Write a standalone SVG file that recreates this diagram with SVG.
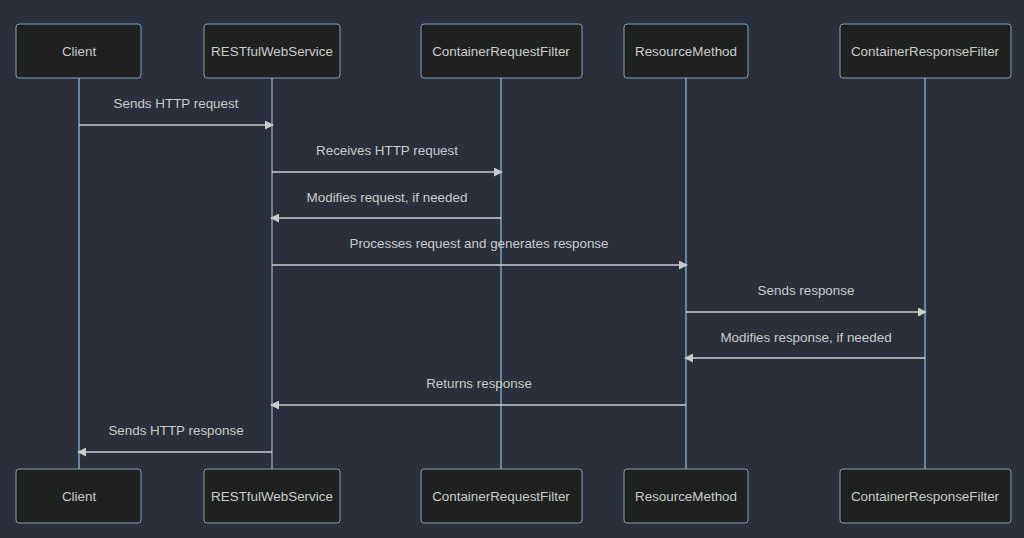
<svg xmlns="http://www.w3.org/2000/svg" width="1024" height="538" viewBox="0 0 1024 538">
<style>
.bg{fill:#2a2f3b}
.box{fill:#1f2020;stroke:#81a1c1;stroke-width:1}
.life{stroke:#81a1c1;stroke-width:1.5}
.lbl{font-family:"Liberation Sans",Arial,sans-serif;font-size:13.4px;fill:#cccccc;text-anchor:middle}
.msg{stroke:#cccccc;stroke-width:1.5;fill:none;marker-end:url(#ah)}
</style>
<defs>
<marker id="ah" viewBox="0 0 10 10" refX="9" refY="5" markerWidth="9" markerHeight="9" markerUnits="userSpaceOnUse" orient="auto">
<path d="M0,0 L10,5 L0,10 z" fill="#cccccc"/>
</marker>
</defs>
<rect class="bg" x="0" y="0" width="1024" height="538"/>
<g id="lifelines">
<line class="life" x1="79" y1="78" x2="79" y2="469"/>
<line class="life" x1="272" y1="78" x2="272" y2="469"/>
<line class="life" x1="501" y1="78" x2="501" y2="469"/>
<line class="life" x1="686" y1="78" x2="686" y2="469"/>
<line class="life" x1="925" y1="78" x2="925" y2="469"/>
</g>
<g id="client-top"><rect class="box" x="16" y="24" width="125" height="54" rx="3"/><text class="lbl" x="79" y="56">Client</text></g>
<g id="rest-top"><rect class="box" x="204" y="24" width="136" height="54" rx="3"/><text class="lbl" x="272" y="56">RESTfulWebService</text></g>
<g id="reqfilter-top"><rect class="box" x="421" y="24" width="161" height="54" rx="3"/><text class="lbl" x="501" y="56">ContainerRequestFilter</text></g>
<g id="resource-top"><rect class="box" x="624" y="24" width="124" height="54" rx="3"/><text class="lbl" x="686" y="56">ResourceMethod</text></g>
<g id="respfilter-top"><rect class="box" x="840" y="24" width="171" height="54" rx="3"/><text class="lbl" x="925" y="56">ContainerResponseFilter</text></g>
<g id="client-bottom"><rect class="box" x="16" y="469" width="125" height="54" rx="3"/><text class="lbl" x="79" y="501">Client</text></g>
<g id="rest-bottom"><rect class="box" x="204" y="469" width="136" height="54" rx="3"/><text class="lbl" x="272" y="501">RESTfulWebService</text></g>
<g id="reqfilter-bottom"><rect class="box" x="421" y="469" width="161" height="54" rx="3"/><text class="lbl" x="501" y="501">ContainerRequestFilter</text></g>
<g id="resource-bottom"><rect class="box" x="624" y="469" width="124" height="54" rx="3"/><text class="lbl" x="686" y="501">ResourceMethod</text></g>
<g id="respfilter-bottom"><rect class="box" x="840" y="469" width="171" height="54" rx="3"/><text class="lbl" x="925" y="501">ContainerResponseFilter</text></g>
<g id="connectors">
<line class="msg" x1="79" y1="125" x2="273" y2="125"/>
<text class="lbl" x="176" y="108">Sends HTTP request</text>
<line class="msg" x1="272" y1="172" x2="502" y2="172"/>
<text class="lbl" x="387" y="155">Receives HTTP request</text>
<line class="msg" x1="501" y1="218" x2="271" y2="218"/>
<text class="lbl" x="387" y="202">Modifies request, if needed</text>
<line class="msg" x1="272" y1="265" x2="687" y2="265"/>
<text class="lbl" x="479" y="248">Processes request and generates response</text>
<line class="msg" x1="686" y1="312" x2="926" y2="312"/>
<text class="lbl" x="806" y="295">Sends response</text>
<line class="msg" x1="925" y1="358" x2="685" y2="358"/>
<text class="lbl" x="806" y="342">Modifies response, if needed</text>
<line class="msg" x1="686" y1="405" x2="271" y2="405"/>
<text class="lbl" x="479" y="388">Returns response</text>
<line class="msg" x1="272" y1="452" x2="78" y2="452"/>
<text class="lbl" x="176" y="435">Sends HTTP response</text>
</g>
</svg>
